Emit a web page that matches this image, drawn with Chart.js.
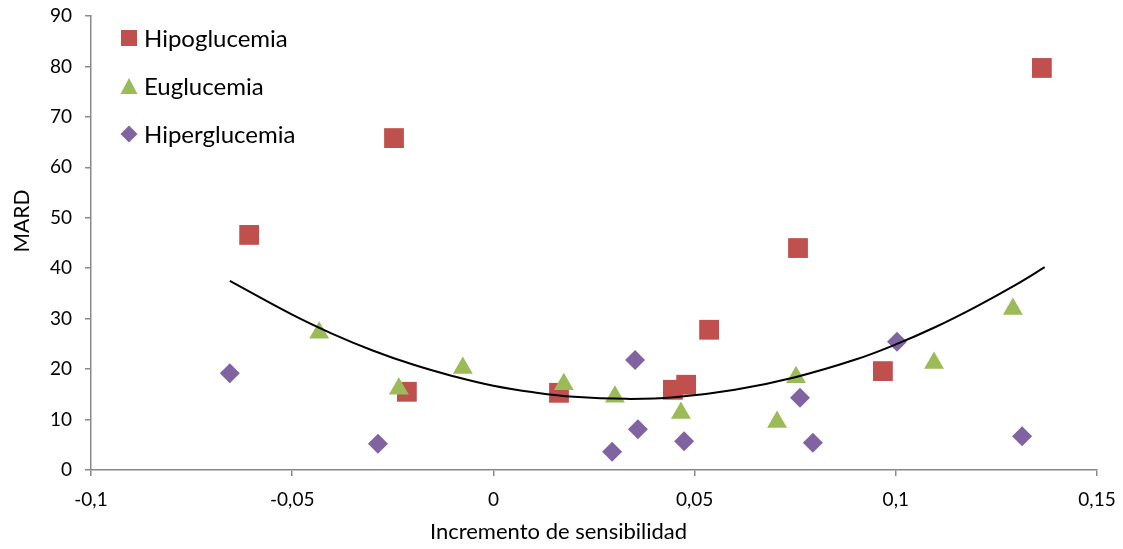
<!DOCTYPE html>
<html>
<head>
<meta charset="utf-8">
<title>MARD vs Incremento de sensibilidad</title>
<script src="https://cdn.jsdelivr.net/npm/chart.js@4.4.1/dist/chart.umd.min.js"></script>
<style>
  html, body { margin: 0; padding: 0; background: #fff; }
  #wrap { width: 1123px; height: 549px; position: relative; }
</style>
</head>
<body>
<div id="wrap"><canvas id="chart"></canvas></div>
<script>
// Series values
const hipoX = [-0.0607, -0.0247, -0.0215, 0.0163, 0.0446, 0.0479, 0.0536, 0.0757, 0.0968, 0.1363];
const hipoY = [46.6, 65.8, 15.5, 15.3, 15.9, 16.9, 27.8, 44.0, 19.6, 79.7];

const euX = [-0.0433, -0.0235, -0.0076, 0.0175, 0.0302, 0.0466, 0.0705, 0.0752, 0.1095, 0.1291];
const euY = [27.2, 16.1, 20.2, 17.0, 14.5, 11.3, 9.5, 18.4, 21.2, 31.9];

const hiperX = [-0.0655, -0.0287, 0.0295, 0.0352, 0.0359, 0.0474, 0.0762, 0.0794, 0.1003, 0.1314];
const hiperY = [19.2, 5.2, 3.6, 21.8, 8.1, 5.7, 14.3, 5.4, 25.4, 6.7];

// Trend curve, points
const trendX = [-0.0655, -0.05, -0.04, -0.03, -0.02, -0.01, 0, 0.01, 0.02, 0.033, 0.045, 0.06, 0.075, 0.09, 0.1, 0.11, 0.12, 0.13, 0.137];
const trendY = [37.5, 30.8, 27.0, 23.7, 20.9, 18.6, 16.7, 15.4, 14.5, 14.1, 14.4, 15.9, 18.4, 21.9, 24.9, 28.4, 32.4, 36.8, 40.2];

const seriesLabels = ["Hipoglucemia", "Euglucemia", "Hiperglucemia"];
const xTickLabels = ["-0,1", "-0,05", "0", "0,05", "0,1", "0,15"];
const yTickLabels = ["0", "10", "20", "30", "40", "50", "60", "70", "80", "90"];
const xTitle = "Incremento de sensibilidad";
const yTitle = "MARD";

const RED = "#C0504D";
const GREEN = "#9BBB59";
const PURPLE = "#8064A2";
const AXIS = "#898989";
const FONT = "Lato, 'Open Sans', sans-serif";

function pts(xs, ys) {
    return xs.map((x, i) => ({ x: x, y: ys[i] }));
}

// keep the plot area where the layout padding puts it
function noLabelPadding(scale) {
    scale.paddingTop = 0;
    scale.paddingBottom = 0;
    scale.paddingLeft = 0;
    scale.paddingRight = 0;
}

// Legend inside the plot area (top left) + the rotated y title
const insideLegend = {
    id: "insideLegend",
    afterDraw(chart) {
        const ctx = chart.ctx;
        const area = chart.chartArea;
        const cx = area.left + 38;
        const styles = [
            { shape: "square", color: RED },
            { shape: "triangle", color: GREEN },
            { shape: "diamond", color: PURPLE }
        ];
        ctx.save();
        ctx.font = "24px " + FONT;
        ctx.textBaseline = "middle";
        ctx.textAlign = "left";
        seriesLabels.forEach((label, i) => {
            const cy = area.top + 22 + i * 48;
            ctx.fillStyle = styles[i].color;
            ctx.beginPath();
            if (styles[i].shape === "square") {
                ctx.rect(cx - 8, cy - 8, 16, 16);
            } else if (styles[i].shape === "triangle") {
                ctx.moveTo(cx, cy - 8);
                ctx.lineTo(cx + 8.5, cy + 8);
                ctx.lineTo(cx - 8.5, cy + 8);
                ctx.closePath();
            } else {
                ctx.moveTo(cx, cy - 8.5);
                ctx.lineTo(cx + 8.5, cy);
                ctx.lineTo(cx, cy + 8.5);
                ctx.lineTo(cx - 8.5, cy);
                ctx.closePath();
            }
            ctx.fill();
            ctx.fillStyle = "#000";
            ctx.fillText(label, cx + 15, cy + 1);
        });

        // y axis title, sits a bit above the middle like the original
        ctx.font = "21px " + FONT;
        ctx.textAlign = "center";
        ctx.translate(22, area.top + 205);
        ctx.rotate(-Math.PI / 2);
        ctx.fillText(yTitle, 0, 0);
        ctx.restore();
    }
};

document.addEventListener("DOMContentLoaded", () => {
    const ctx = document.getElementById("chart");
    new Chart(ctx, {
        type: "scatter",
        data: {
            datasets: [
                {
                    label: "Tendencia",
                    data: pts(trendX, trendY),
                    showLine: true,
                    borderColor: "#000",
                    borderWidth: 2,
                    pointRadius: 0,
                    tension: 0.4,
                    order: 0
                },
                {
                    label: seriesLabels[2],
                    data: pts(hiperX, hiperY),
                    pointStyle: "rectRot",
                    pointRadius: 10,
                    backgroundColor: PURPLE,
                    borderColor: PURPLE,
                    borderWidth: 0,
                    order: 1
                },
                {
                    label: seriesLabels[1],
                    data: pts(euX, euY),
                    pointStyle: "triangle",
                    pointRadius: 11.5,
                    backgroundColor: GREEN,
                    borderColor: GREEN,
                    borderWidth: 0,
                    order: 2
                },
                {
                    label: seriesLabels[0],
                    data: pts(hipoX, hipoY),
                    pointStyle: "rect",
                    pointRadius: 14,
                    backgroundColor: RED,
                    borderColor: RED,
                    borderWidth: 0,
                    order: 3
                }
            ]
        },
        options: {
            responsive: true,
            maintainAspectRatio: false,
            animation: false,
            layout: { padding: { left: 20, right: 26, top: 16, bottom: 0 } },
            plugins: {
                legend: { display: false },
                tooltip: { enabled: false },
                title: {
                    display: true,
                    position: "bottom",
                    text: xTitle,
                    color: "#000",
                    font: { family: FONT, size: 22, weight: "normal" },
                    padding: { top: 0, bottom: 4 }
                }
            },
            scales: {
                x: {
                    type: "linear",
                    min: -0.1,
                    max: 0.15,
                    afterFit: (scale) => { scale.height = 48.6; noLabelPadding(scale); },
                    ticks: {
                        stepSize: 0.05,
                        color: "#000",
                        padding: 12,
                        font: { family: FONT, size: 19 },
                        callback: (v, i) => xTickLabels[i]
                    },
                    grid: { drawOnChartArea: false, drawTicks: true, tickLength: 6, color: AXIS, lineWidth: 1.5 },
                    border: { display: true, color: AXIS, width: 1.5 }
                },
                y: {
                    type: "linear",
                    min: 0,
                    max: 90,
                    afterFit: (scale) => { scale.width = 71; noLabelPadding(scale); },
                    ticks: {
                        stepSize: 10,
                        color: "#000",
                        padding: 13,
                        font: { family: FONT, size: 19 },
                        callback: (v, i) => yTickLabels[i]
                    },
                    grid: { drawOnChartArea: false, drawTicks: true, tickLength: 6, color: AXIS, lineWidth: 1.5 },
                    border: { display: true, color: AXIS, width: 1.5 }
                }
            }
        },
        plugins: [insideLegend]
    });
});
</script>
</body>
</html>
